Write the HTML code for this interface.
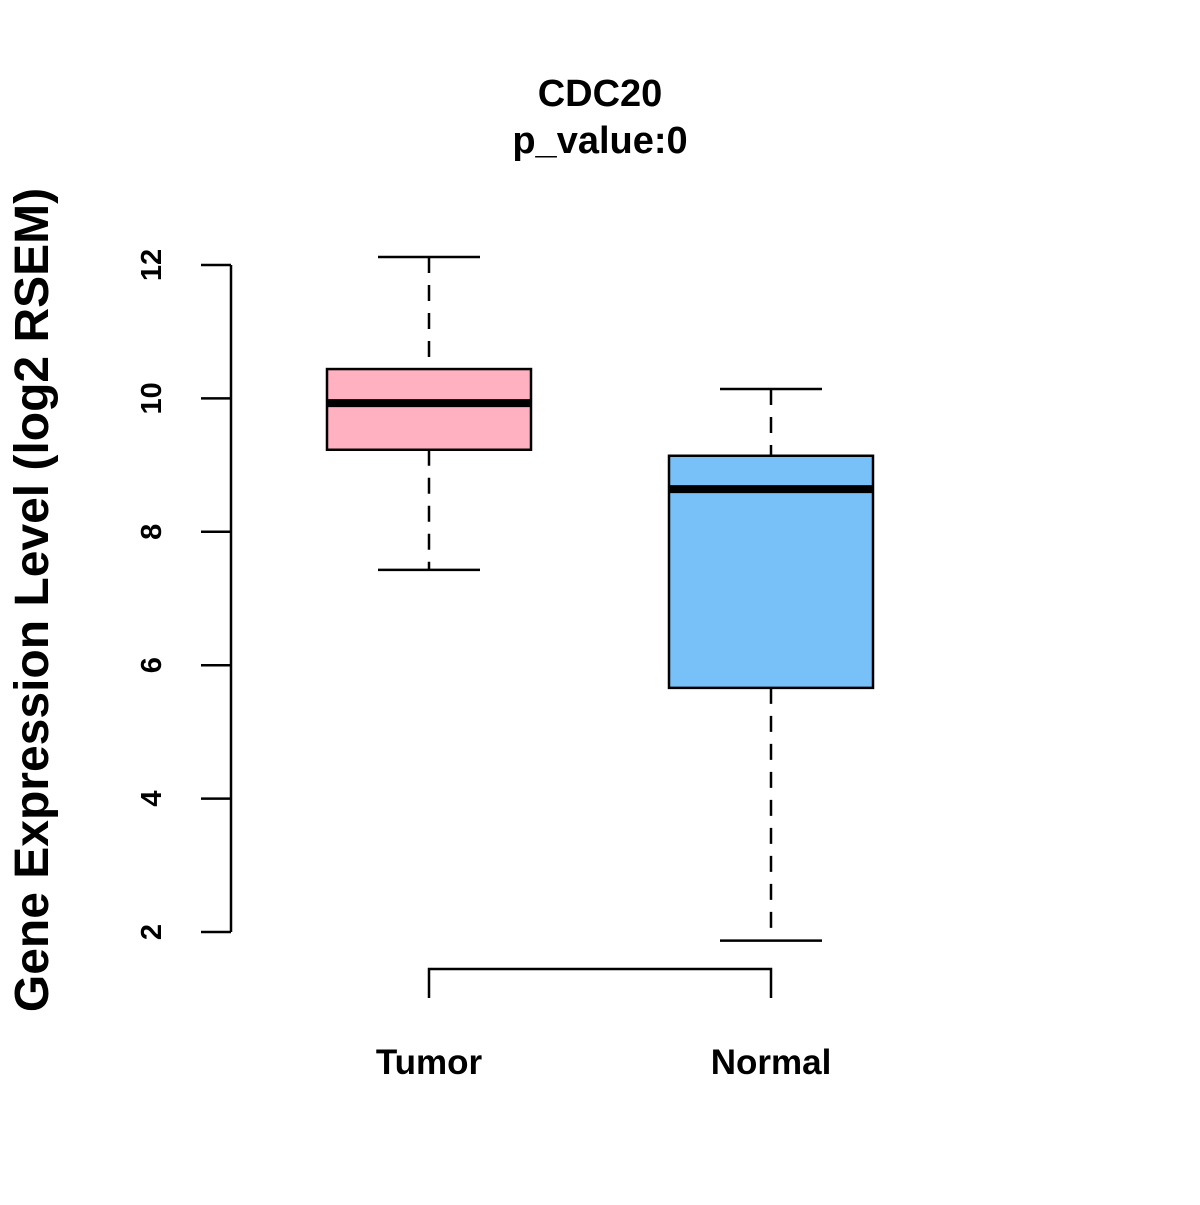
<!DOCTYPE html>
<html><head><meta charset="utf-8"><style>
html,body{margin:0;padding:0;background:#fff;}
svg text{font-family:"Liberation Sans",Arial,sans-serif;font-weight:bold;}
</style></head><body>
<svg id="chart" width="1200" height="1200" viewBox="0 0 1200 1200" xmlns="http://www.w3.org/2000/svg">
<rect width="1200" height="1200" fill="#fff"/>
<text x="600" y="106" font-size="38" text-anchor="middle">CDC20</text>
<text x="600" y="153" font-size="38" text-anchor="middle">p_value:0</text>
<text transform="translate(48,600) rotate(-90)" font-size="48" text-anchor="middle">Gene Expression Level (log2 RSEM)</text>
<g id="axis"></g>
<g id="boxes"></g>
<g id="xlab"></g>
</svg>
<script>
const categories = ["Tumor", "Normal"];
const whiskerLow = [7.43, 1.87];
const q1 = [9.23, 5.66];
const medians = [9.93, 8.64];
const q3 = [10.44, 9.14];
const whiskerHigh = [12.12, 10.14];
const fills = ["#FFB0C1", "#78C1F8"];
const yTicks = [2, 4, 6, 8, 10, 12];

const NS = "http://www.w3.org/2000/svg";
const y = v => 265 + (12 - v) * (932 - 265) / 10;
const xc = i => 429 + i * 342;
function mk(tag, attrs, parent) {
  const e = document.createElementNS(NS, tag);
  for (const k in attrs) e.setAttribute(k, attrs[k]);
  parent.appendChild(e);
  return e;
}
const axis = document.getElementById('axis');
let l = mk('line', {x1:231, x2:231, y1:y(yTicks[yTicks.length-1]), y2:y(yTicks[0]), stroke:'#000', 'stroke-width':2.5}, axis);


yTicks.forEach(t => {
  const tk = mk('line', {x1:201, x2:231, y1:y(t), y2:y(t), stroke:'#000', 'stroke-width':2.5}, axis);
  
  
  const tx = mk('text', {transform:`translate(161,${y(t)}) rotate(-90)`, 'font-size':29, 'text-anchor':'middle'}, axis);
  tx.textContent = t;
  
  
});
const boxes = document.getElementById('boxes');
const hw = 102, cw = 51;
categories.forEach((c, i) => {
  const g = mk('g', {}, boxes);
  
  
  const x = xc(i);
  mk('line', {x1:x, x2:x, y1:y(whiskerHigh[i]), y2:y(q3[i]), stroke:'#000', 'stroke-width':2.5, 'stroke-dasharray':'16,12'}, g);
  mk('line', {x1:x, x2:x, y1:y(q1[i]), y2:y(whiskerLow[i]), stroke:'#000', 'stroke-width':2.5, 'stroke-dasharray':'16,12'}, g);
  mk('line', {x1:x-cw, x2:x+cw, y1:y(whiskerHigh[i]), y2:y(whiskerHigh[i]), stroke:'#000', 'stroke-width':2.5}, g);
  mk('line', {x1:x-cw, x2:x+cw, y1:y(whiskerLow[i]), y2:y(whiskerLow[i]), stroke:'#000', 'stroke-width':2.5}, g);
  mk('rect', {x:x-hw, y:y(q3[i]), width:2*hw, height:y(q1[i])-y(q3[i]), fill:fills[i], stroke:'#000', 'stroke-width':2.5}, g);
  mk('line', {x1:x-hw, x2:x+hw, y1:y(medians[i]), y2:y(medians[i]), stroke:'#000', 'stroke-width':8}, g);
});
const xl = document.getElementById('xlab');
const xa = mk('path', {d:`M${xc(0)},998 V969 H${xc(1)} V998`, fill:'none', stroke:'#000', 'stroke-width':2.5}, xl);


categories.forEach((c, i) => {
  const t = mk('text', {x:xc(i), y:1074, 'font-size':35, 'text-anchor':'middle'}, xl);
  t.textContent = c;
  
  
});
</script>
</body></html>
